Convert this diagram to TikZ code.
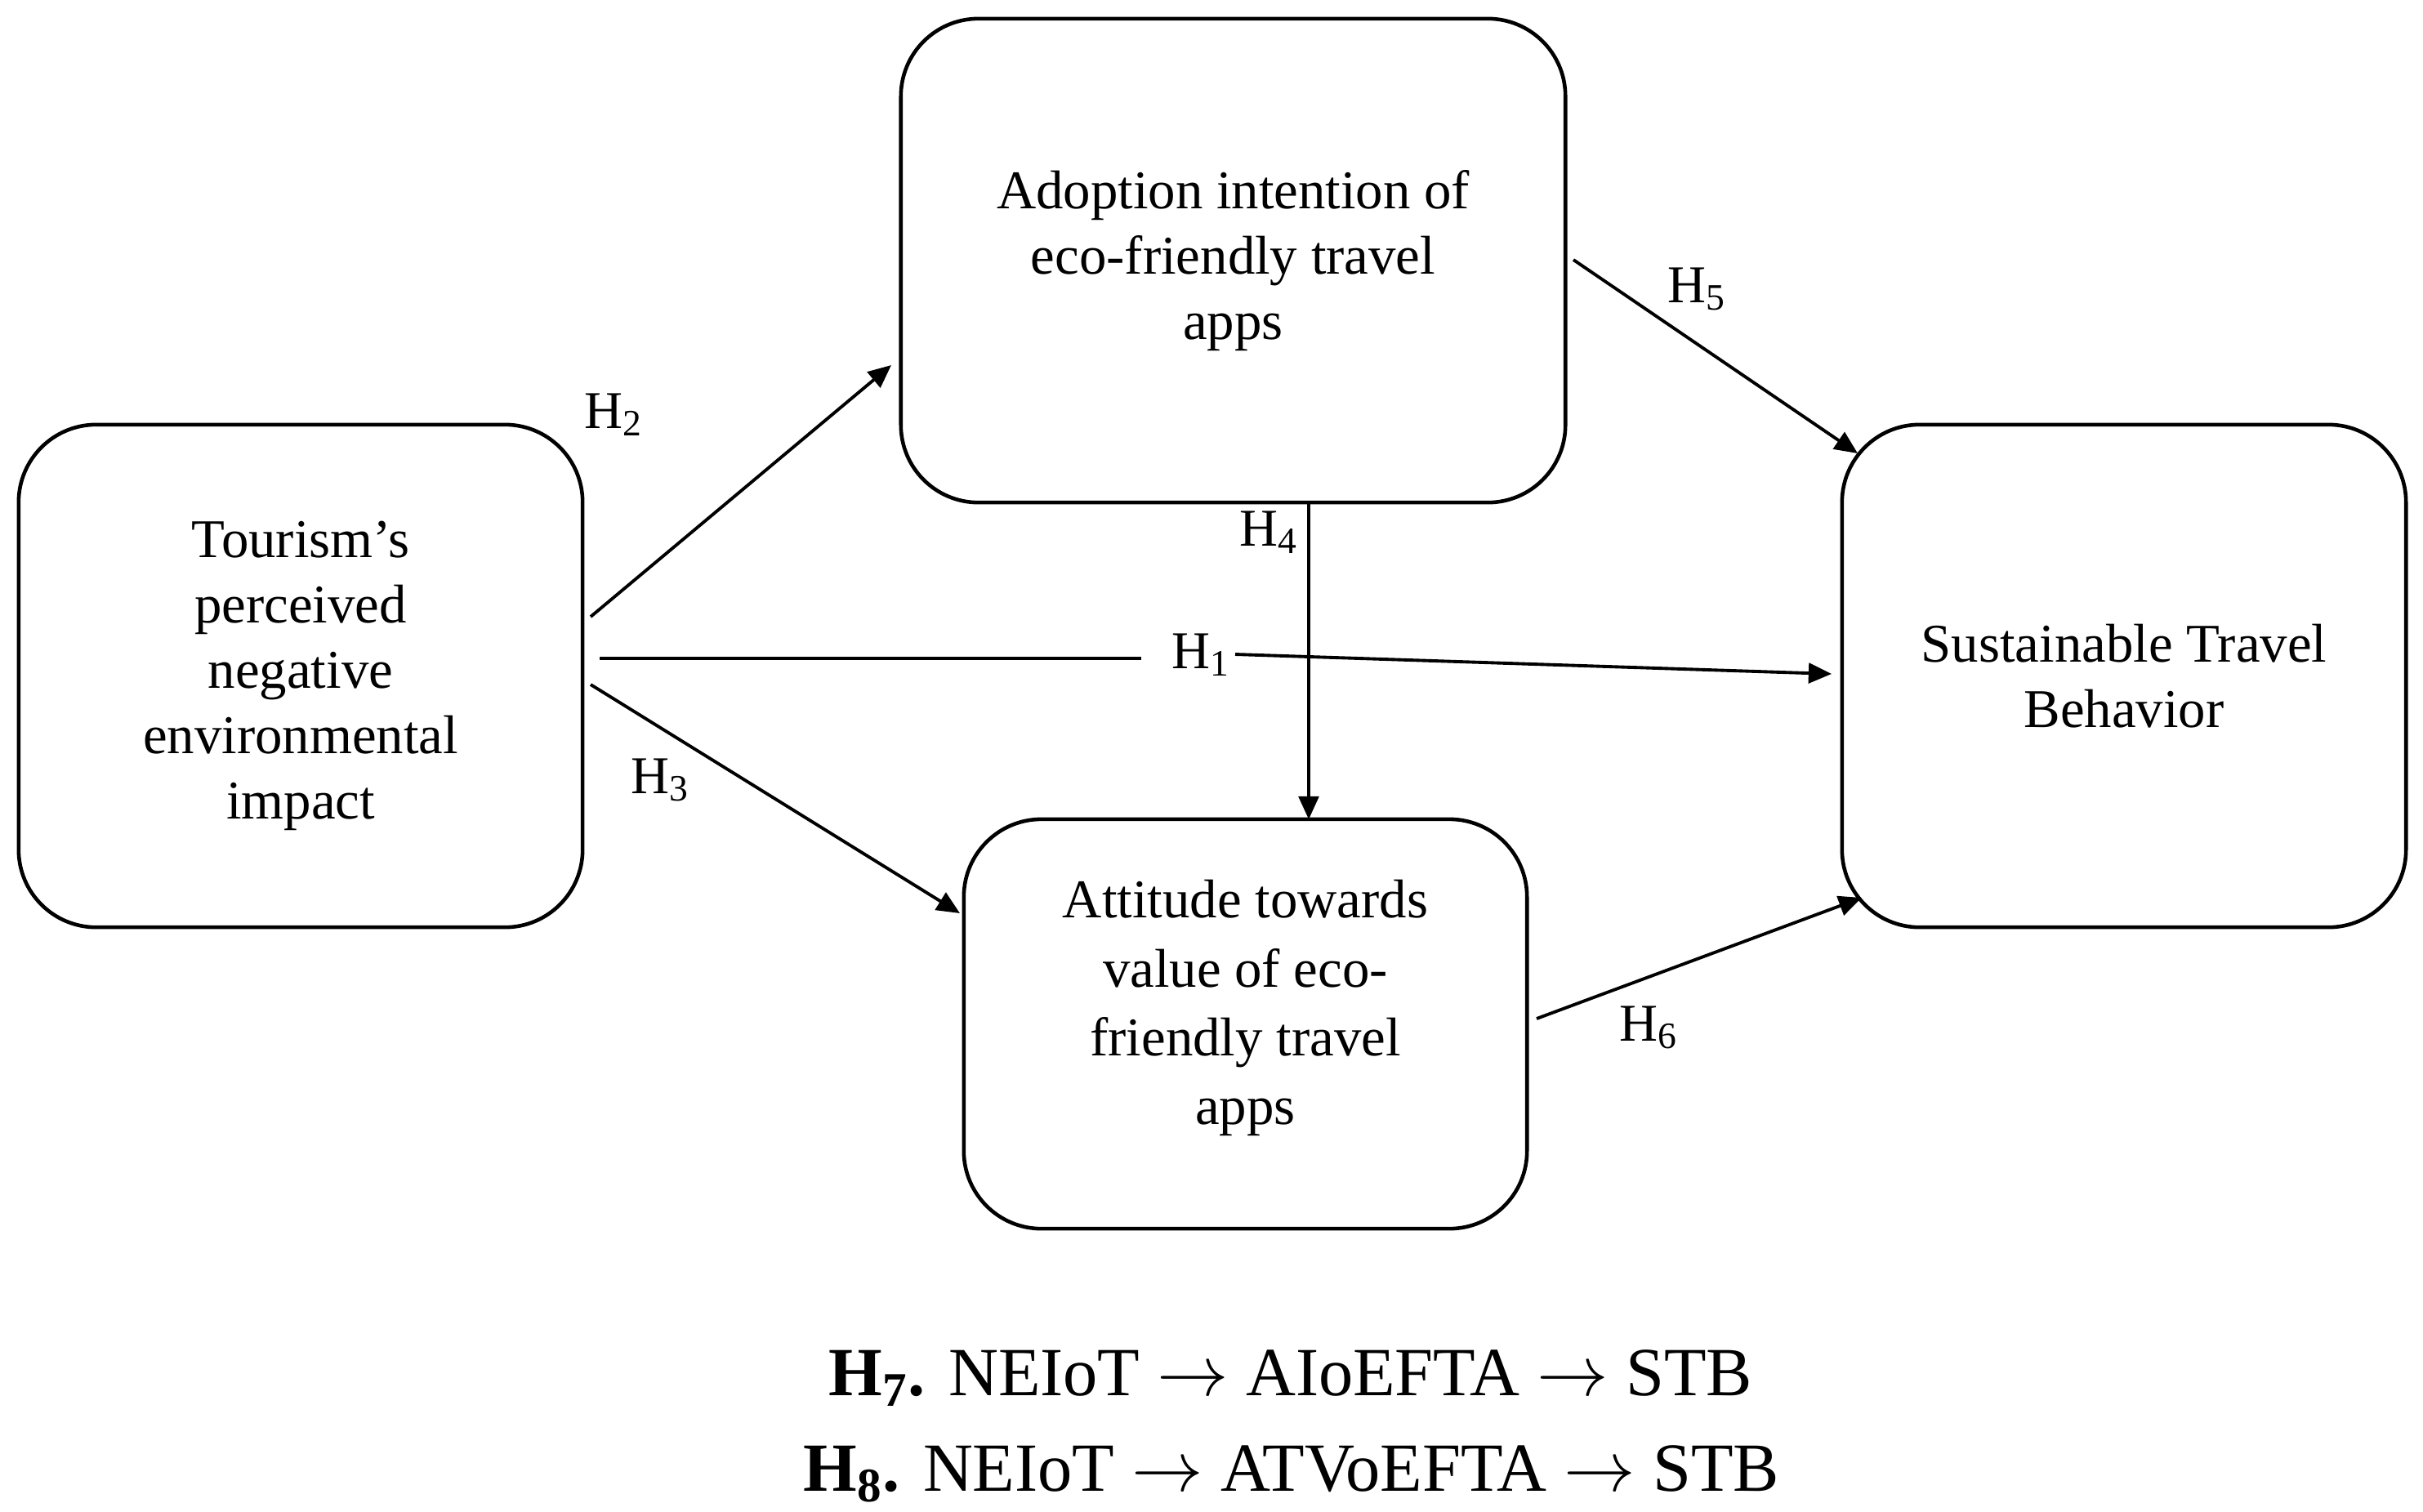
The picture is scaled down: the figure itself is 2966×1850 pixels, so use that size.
\documentclass[tikz,border=0pt]{standalone}
\usepackage{fontspec}
\setmainfont{Liberation Serif}
\usetikzlibrary{arrows.meta}
\begin{document}
\begin{tikzpicture}[x=0.01cm,y=-0.01cm,
  box/.style={draw, line width=1.3pt, rounded corners=0.95cm, align=center,
    font=\fontsize{19}{22.7}\selectfont, inner sep=0pt},
  plainline/.style={line width=1.1pt},
  conn/.style={line width=1.1pt, -{Triangle[length=8pt,width=7pt]}},
  hyp/.style={font=\fontsize{18.5}{22}\selectfont, inner sep=1pt},
  eqtext/.style={font=\fontsize{24}{29}\selectfont, inner sep=0pt, anchor=base}]
\useasboundingbox (0,0) rectangle (2966,1850);
\fill[white] (0,0) rectangle (2966,1850);

% boxes
\node[box, minimum width=6.9cm, minimum height=6.15cm] (neg) at (368,827.5)
  {Tourism’s\\perceived\\negative\\environmental\\impact};
\node[box, minimum width=8.13cm, minimum height=5.92cm] (adopt) at (1509.5,319)
  {Adoption intention of\\eco-friendly travel\\apps};
\node[box, minimum width=6.89cm, minimum height=5.01cm] (att) at (1524.5,1253.5)
  {\fontsize{19}{24}\selectfont\begin{tabular}{@{}c@{}}Attitude towards\\value of eco-\\friendly travel\\apps\\[0.4cm]\end{tabular}};
\node[box, minimum width=6.9cm, minimum height=6.15cm] (stb) at (2600,827.5)
  {Sustainable Travel\\Behavior};

% connector end points
\coordinate (h2s) at (723,755);  \coordinate (h2e) at (1091,447);
\coordinate (h1s) at (734,806);  \coordinate (h1a) at (1397,806);
\coordinate (h1b) at (1512,801); \coordinate (h1e) at (2242,825);
\coordinate (h3s) at (723,838);  \coordinate (h3e) at (1175,1118);
\coordinate (h4s) at (1602,615); \coordinate (h4e) at (1602,1003);
\coordinate (h5s) at (1926,318); \coordinate (h5e) at (2274,555);
\coordinate (h6s) at (1881,1247); \coordinate (h6e) at (2279,1099);

% connectors
\draw[conn] (h2s) -- (h2e);
\draw[plainline] (h1s) -- (h1a);
\draw[conn] (h1b) -- (h1e);
\draw[conn] (h3s) -- (h3e);
\draw[conn] (h4s) -- (h4e);
\draw[conn] (h5s) -- (h5e);
\draw[conn] (h6s) -- (h6e);

% labels
\node[hyp] (l2) at (751,508) {H\textsubscript{2}};
\node[hyp] (l1) at (1470,802) {H\textsubscript{1}};
\node[hyp] (l3) at (808,955) {H\textsubscript{3}};
\node[hyp] (l4) at (1553,652) {H\textsubscript{4}};
\node[hyp] (l5) at (2077,354) {H\textsubscript{5}};
\node[hyp] (l6) at (2018,1258) {H\textsubscript{6}};

% bottom text
\node[eqtext] (eq7) at (1580,1708) {\textbf{H\textsubscript{7}.} NEIoT $\rightarrow$ AIoEFTA $\rightarrow$ STB};
\node[eqtext] (eq8) at (1581,1825) {\textbf{H\textsubscript{8}.} NEIoT $\rightarrow$ ATVoEFTA $\rightarrow$ STB};
\end{tikzpicture}
\end{document}
